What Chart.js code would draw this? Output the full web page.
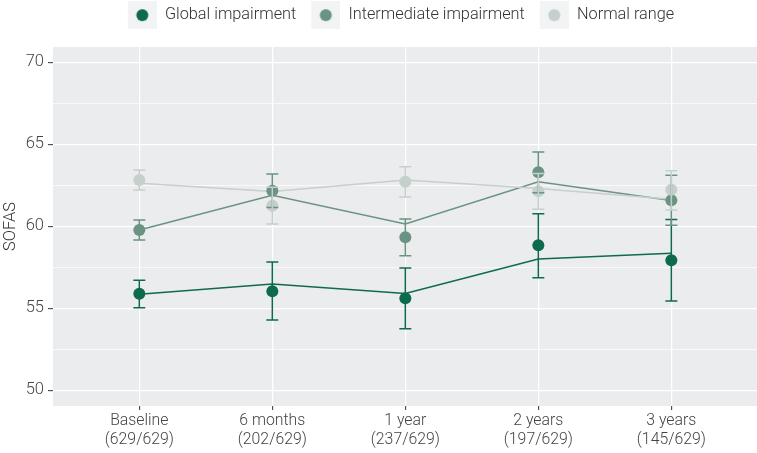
<!DOCTYPE html>
<html><head><meta charset="utf-8">
<script src="https://cdn.jsdelivr.net/npm/chart.js@4.4.1/dist/chart.umd.min.js"></script>
<style>html,body{margin:0;padding:0;background:#fff;overflow:hidden}canvas{display:block}</style>
</head><body>
<canvas id="c" width="757" height="453" style="width:757px;height:453px"></canvas>
<script>
// ---- data ----
const categories = [['Baseline','(629/629)'],['6 months','(202/629)'],['1 year','(237/629)'],['2 years','(197/629)'],['3 years','(145/629)']];
const seriesNames = ['Global impairment','Intermediate impairment','Normal range'];

const globalMean   = [55.89, 56.04, 55.61, 58.84, 57.93];
const globalLower  = [55.04, 54.29, 53.76, 56.87, 55.45];
const globalUpper  = [56.71, 57.82, 57.46, 60.77, 60.41];
const globalFitted = [55.85, 56.48, 55.91, 58.01, 58.35];

const interMean   = [59.77, 62.17, 59.33, 63.29, 61.59];
const interLower  = [59.16, 61.15, 58.21, 62.05, 60.07];
const interUpper  = [60.38, 63.19, 60.45, 64.53, 63.12];
const interFitted = [59.77, 61.89, 60.14, 62.72, 61.57];

const normalMean   = [62.82, 61.26, 62.72, 62.13, 62.23];
const normalLower  = [62.21, 60.14, 61.79, 61.04, 60.99];
const normalUpper  = [63.43, 62.38, 63.63, 63.22, 63.39];
const normalFitted = [62.62, 62.12, 62.82, 62.30, 61.65];

const yTickValues = [50, 52.5, 55, 57.5, 60, 62.5, 65, 67.5, 70];
const yLabelled = [50, 55, 60, 65, 70];

// ---- styles ----
const colors = ['#0E6A4C', '#6A9383', '#C5CFCB'];
const FONT = 'Roboto';
const capHalf = 0.045;

const groups = [
  {mean: globalMean, lo: globalLower, hi: globalUpper, fit: globalFitted},
  {mean: interMean, lo: interLower, hi: interUpper, fit: interFitted},
  {mean: normalMean, lo: normalLower, hi: normalUpper, fit: normalFitted}
];

function errData(g) {
  const out = [];
  categories.forEach((_, i) => {
    out.push({x: i, y: g.lo[i]}, {x: i, y: g.hi[i]}, {x: i, y: null});
    out.push({x: i - capHalf, y: g.lo[i]}, {x: i + capHalf, y: g.lo[i]}, {x: i, y: null});
    out.push({x: i - capHalf, y: g.hi[i]}, {x: i + capHalf, y: g.hi[i]}, {x: i, y: null});
  });
  return out;
}

const datasets = [];
groups.forEach((g, k) => {
  datasets.push({
    label: seriesNames[k] + ' points',
    data: categories.map((_, i) => ({x: i, y: g.mean[i]})),
    showLine: false, pointRadius: 6, pointBackgroundColor: colors[k], pointBorderColor: colors[k],
    pointBorderWidth: 0, order: 20 + (2 - k)
  });
});
groups.forEach((g, k) => {
  datasets.push({
    label: seriesNames[k] + ' fitted',
    data: categories.map((_, i) => ({x: i, y: g.fit[i]})),
    borderColor: colors[k], borderWidth: 1.5, pointRadius: 0, tension: 0, fill: false,
    order: 30 + (2 - k)
  });
  datasets.push({
    label: seriesNames[k] + ' CI',
    data: errData(g),
    borderColor: colors[k], borderWidth: 1.5, pointRadius: 0, tension: 0, fill: false,
    spanGaps: false, order: 10 + (2 - k)
  });
});

function keyIcon(color) {
  const c = document.createElement('canvas');
  c.width = 37; c.height = 28;
  const x = c.getContext('2d');
  x.fillStyle = '#F2F3F4';
  x.fillRect(8, 0, 29, 28);
  x.fillStyle = color;
  x.beginPath(); x.arc(22.5, 14, 6, 0, Math.PI * 2); x.fill();
  return c;
}
const keyIcons = colors.map(keyIcon);

const panelBg = {
  id: 'panelBg',
  beforeDraw(chart) {
    const {ctx, chartArea: a} = chart;
    ctx.save(); ctx.fillStyle = '#EBECEE';
    ctx.fillRect(a.left, a.top, a.right - a.left, a.bottom - a.top);
    ctx.restore();
  }
};
const legendFix = {
  id: 'legendFix',
  afterInit(chart) {
    const lg = chart.legend;
    const proto = Object.getPrototypeOf(lg);
    lg.fit = function() { proto.fit.call(this); this.height = 47; };
  },
  afterLayout(chart) {
    chart.legend.left -= 8; chart.legend.right -= 8;
  }
};

new Chart(document.getElementById('c'), {
  type: 'line',
  data: {datasets},
  plugins: [panelBg, legendFix],
  options: {
    responsive: false, animation: false, events: [],
    layout: {padding: 0, autoPadding: false},
    plugins: {
      tooltip: {enabled: false},
      legend: {
        position: 'top', fullSize: false,
        labels: {
          usePointStyle: true, pointStyleWidth: 37, boxHeight: 16, padding: 7,
          font: {family: FONT, size: 16.3, weight: '300'}, color: '#333',
          generateLabels: () => seriesNames.map((name, i) => ({
            text: name, pointStyle: keyIcons[i], fillStyle: colors[i], strokeStyle: colors[i],
            lineWidth: 0, hidden: false, datasetIndex: i, fontColor: '#333'
          }))
        }
      }
    },
    scales: {
      x: {
        type: 'linear', min: -0.649, max: 4.644,
        afterBuildTicks: s => { s.ticks = categories.map((_, i) => ({value: i})); },
        afterFit: s => { s.height = 47; },
        border: {display: false},
        grid: {color: '#FFFFFF', lineWidth: 1.3, drawTicks: true, tickLength: 4, tickColor: '#333', tickWidth: 1},
        ticks: {
          autoSkip: false, maxRotation: 0, padding: 2, color: '#444',
          font: {family: FONT, size: 15.8, weight: '300', lineHeight: 1.2},
          callback: v => categories[Math.round(v)]
        }
      },
      y: {
        type: 'linear', min: 49.043, max: 70.933,
        afterBuildTicks: s => { s.ticks = yTickValues.map(v => ({value: v})); },
        afterFit: s => { s.width = 53; },
        border: {display: false},
        grid: {
          color: '#FFFFFF',
          lineWidth: c => (c.tick && yLabelled.includes(c.tick.value)) ? 1.3 : 0.7,
          drawTicks: true, tickLength: 5,
          tickColor: c => (c.tick && yLabelled.includes(c.tick.value)) ? '#333' : 'rgba(0,0,0,0)',
          tickWidth: 1
        },
        ticks: {
          autoSkip: false, padding: 4, color: '#444',
          font: {family: FONT, size: 16.5, weight: '300'},
          callback: v => yLabelled.includes(v) ? String(v) : ''
        },
        title: {display: true, text: 'SOFAS', color: '#333', padding: {top: 1.5, bottom: 0},
          font: {family: FONT, size: 16.5, weight: '300', lineHeight: 1.1}}
      }
    }
  }
});
</script>
</body></html>
